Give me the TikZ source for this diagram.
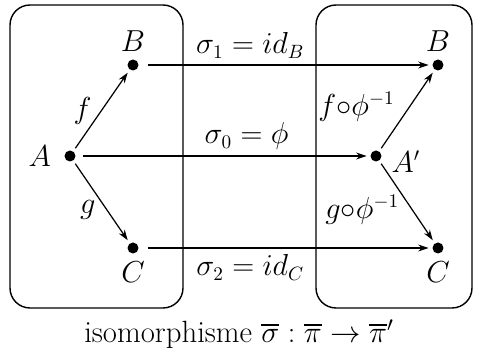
\documentclass[tikz,border=0pt]{standalone}
\usepackage{amsmath,amssymb}
\usetikzlibrary{arrows.meta, positioning}

\tikzset{
  pt/.style={circle, fill=black, inner sep=0pt, minimum size=0.22cm},
  map/.style={-{Stealth[length=6pt, width=4pt]}, line width=0.7pt, shorten <=2pt, shorten >=2pt},
  frame/.style={line width=0.8pt, rounded corners=0.4cm},
}

\begin{document}
\begin{tikzpicture}[x=0.02cm, y=-0.02cm, font=\fontsize{16}{19}\selectfont]
  \useasboundingbox (0,0) rectangle (478,354);
  % the two diagrams
  \draw[frame] (10,5) rectangle (183,308);
  \draw[frame] (316,5) rectangle (472,308);

  % left diagram
  \node[pt] (A) at (70,156) {};
  \node[pt] (B) at (133,65) {};
  \node[pt] (C) at (133,248) {};
  \node[left=4pt of A] (lA) {$A$};
  \node[above=1pt of B] (lB) {$B$};
  \node[below=1pt of C] (lC) {$C$};
  \draw[map] (A) -- (B) node[midway, left=2pt] (lf) {$f$};
  \draw[map] (A) -- (C) node[pos=0.6, left=3pt] (lg) {$g$};

  % right diagram
  \node[pt] (A2) at (376,156) {};
  \node[pt] (B2) at (438,65) {};
  \node[pt] (C2) at (438,248) {};
  \node[right=2pt of A2, yshift=-3pt] (lA2) {$A'$};
  \node[above=1pt of B2] (lB2) {$B$};
  \node[below=1pt of C2] (lC2) {$C$};
  \draw[map] (A2) -- (B2) node[pos=0.55, left=5pt] (lfp) {$f{\circ}\phi^{-1}$};
  \draw[map] (A2) -- (C2) node[pos=0.6, left=4pt] (lgp) {$g{\circ}\phi^{-1}$};

  % sigma
  \draw[map, shorten <=5pt] (B) -- (B2) node[pos=0.38, above] (s1) {$\sigma_1 = id_B$};
  \draw[map, shorten <=4pt] (A) -- (A2) node[pos=0.58, above] (s0) {$\sigma_0 = \phi$};
  \draw[map, shorten <=5pt] (C) -- (C2) node[pos=0.38, below] (s2) {$\sigma_2 = id_C$};

  \node[font=\fontsize{17.5}{21}\selectfont] (cap) at (239,334) {isomorphisme $\overline{\sigma} : \overline{\pi} \to \overline{\pi}'$};
\end{tikzpicture}
\end{document}
